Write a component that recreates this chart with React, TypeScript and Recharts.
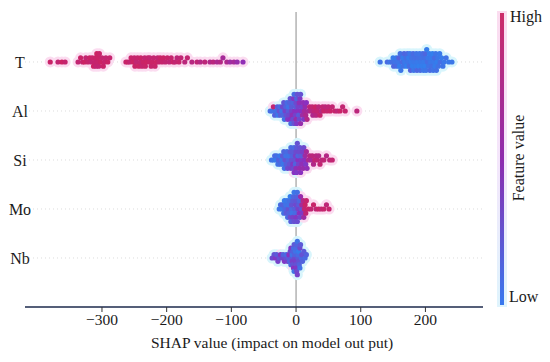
import React from "react";
import { ScatterChart, Scatter, XAxis, YAxis, ReferenceLine } from "recharts";

const FONT = '"Liberation Serif", "Times New Roman", serif';

// bottom to top
const features = ["Nb", "Mo", "Si", "Al", "T"];
const xTicks = [-300, -200, -100, 0, 100, 200];

// [shap value, normalised feature value]
const tValues: [number, number][] = [
  [-380, 0.95], [-368, 0.9], [-362, 0.97], [-357, 0.92],
  [-337, 0.9], [-333, 0.95], [-330, 0.92], [-327, 0.97], [-325, 0.9], [-322, 0.93], [-319, 0.96], [-317, 0.9],
  [-315, 0.94], [-313, 0.97], [-311, 0.92], [-310, 0.95], [-309, 0.9], [-308, 0.98], [-307, 0.93], [-306, 0.96],
  [-305, 0.9], [-304, 0.94], [-302, 0.97], [-300, 0.91], [-298, 0.95], [-296, 0.93], [-294, 0.9], [-291, 0.96], [-288, 0.92],
  [-263, 0.93], [-260, 0.96], [-257, 0.9], [-255, 0.94], [-252, 0.97], [-250, 0.92], [-249, 0.95], [-247, 0.9],
  [-245, 0.93], [-243, 0.97], [-241, 0.91], [-240, 0.95], [-238, 0.92], [-236, 0.96], [-234, 0.9], [-233, 0.94],
  [-231, 0.97], [-229, 0.92], [-227, 0.95], [-226, 0.9], [-224, 0.93], [-222, 0.96], [-220, 0.91], [-218, 0.94],
  [-216, 0.97], [-214, 0.9], [-212, 0.93], [-210, 0.95], [-207, 0.92], [-205, 0.96], [-202, 0.9], [-199, 0.94],
  [-196, 0.88], [-193, 0.92], [-190, 0.95], [-187, 0.9], [-184, 0.86], [-181, 0.93], [-178, 0.89],
  [-172, 0.85], [-168, 0.9], [-161, 0.82], [-153, 0.88], [-148, 0.8], [-141, 0.86], [-133, 0.78], [-128, 0.84],
  [-122, 0.75], [-117, 0.8], [-113, 0.7], [-107, 0.76], [-102, 0.65], [-96, 0.7], [-91, 0.6], [-82, 0.55],
  [130, 0.1], [141, 0.15], [145, 0.08], [148, 0.12], [150, 0.05], [151, 0.18], [153, 0.1], [155, 0.06],
  [156, 0.14], [158, 0.09], [159, 0.2], [160, 0.04], [161, 0.12], [162, 0.08], [164, 0.15], [165, 0.05],
  [166, 0.1], [167, 0.18], [168, 0.07], [170, 0.12], [171, 0.03], [172, 0.16], [173, 0.09], [174, 0.05],
  [175, 0.13], [176, 0.08], [177, 0.2], [178, 0.06], [179, 0.11], [180, 0.04], [181, 0.15], [182, 0.09],
  [183, 0.07], [184, 0.13], [185, 0.05], [186, 0.1], [187, 0.17], [188, 0.06], [189, 0.12], [190, 0.03],
  [191, 0.09], [192, 0.15], [193, 0.07], [194, 0.11], [195, 0.04], [196, 0.14], [197, 0.08], [198, 0.06],
  [199, 0.12], [200, 0.03], [200, 0.18], [201, 0.09], [202, 0.05], [203, 0.13], [204, 0.07], [205, 0.1],
  [206, 0.04], [207, 0.15], [208, 0.08], [209, 0.06], [210, 0.12], [211, 0.03], [212, 0.1], [213, 0.07],
  [214, 0.14], [215, 0.05], [216, 0.09], [217, 0.12], [218, 0.04], [219, 0.08], [220, 0.11], [222, 0.06],
  [223, 0.13], [225, 0.05], [227, 0.09], [229, 0.07], [232, 0.1], [236, 0.06], [241, 0.08],
];

const alValues: [number, number][] = [
  [-40, 0.15], [-37, 0.1], [-35, 0.9], [-33, 0.2], [-31, 0.12], [-29, 0.25], [-28, 0.08], [-26, 0.3],
  [-25, 0.15], [-24, 0.22], [-22, 0.1], [-21, 0.35], [-20, 0.18], [-19, 0.28], [-18, 0.12], [-17, 0.4],
  [-16, 0.2], [-15, 0.3], [-14, 0.15], [-13, 0.45], [-12, 0.25], [-12, 0.1], [-11, 0.35], [-10, 0.2],
  [-9, 0.5], [-9, 0.3], [-8, 0.15], [-7, 0.4], [-7, 0.25], [-6, 0.55], [-5, 0.2], [-5, 0.35], [-4, 0.45],
  [-3, 0.3], [-3, 0.15], [-2, 0.5], [-1, 0.25], [-1, 0.4], [0, 0.35], [0, 0.6], [1, 0.2], [1, 0.45],
  [2, 0.3], [3, 0.5], [3, 0.4], [4, 0.25], [5, 0.55], [5, 0.35], [6, 0.45], [7, 0.6], [7, 0.3], [8, 0.5],
  [9, 0.4], [10, 0.65], [11, 0.55], [12, 0.45], [13, 0.7], [14, 0.6], [15, 0.75], [16, 0.5], [17, 0.8], [19, 0.7],
  [21, 0.85], [23, 0.8], [25, 0.9], [26, 0.75], [28, 0.88], [30, 0.95], [31, 0.82], [33, 0.9], [35, 0.85],
  [37, 0.93], [39, 0.8], [41, 0.9], [43, 0.95], [45, 0.86], [48, 0.92], [50, 0.88], [53, 0.95], [56, 0.9],
  [60, 0.93], [64, 0.87], [68, 0.95], [72, 0.9], [76, 0.92], [94, 0.85],
];

const siValues: [number, number][] = [
  [-38, 0.1], [-35, 0.08], [-33, 0.15], [-31, 0.05], [-30, 0.12], [-28, 0.1], [-27, 0.2], [-25, 0.06],
  [-24, 0.15], [-22, 0.1], [-21, 0.25], [-20, 0.08], [-19, 0.18], [-18, 0.12], [-17, 0.3], [-16, 0.1],
  [-15, 0.22], [-14, 0.15], [-13, 0.35], [-12, 0.2], [-11, 0.1], [-10, 0.3], [-9, 0.25], [-8, 0.4],
  [-8, 0.15], [-7, 0.3], [-6, 0.2], [-5, 0.45], [-5, 0.25], [-4, 0.35], [-3, 0.15], [-3, 0.5], [-2, 0.3],
  [-1, 0.4], [-1, 0.2], [0, 0.35], [0, 0.55], [1, 0.25], [1, 0.45], [2, 0.3], [3, 0.5], [3, 0.2], [4, 0.4],
  [5, 0.35], [5, 0.6], [6, 0.3], [7, 0.5], [8, 0.45], [8, 0.25], [9, 0.55], [10, 0.4], [11, 0.6], [12, 0.35],
  [13, 0.5], [14, 0.65], [15, 0.45], [16, 0.7], [17, 0.55], [19, 0.75], [21, 0.8], [23, 0.7], [25, 0.85],
  [27, 0.78], [29, 0.9], [31, 0.82], [33, 0.88], [35, 0.8], [37, 0.9], [40, 0.85], [43, 0.88], [47, 0.8],
  [52, 0.86], [56, 0.9],
];

const moValues: [number, number][] = [
  [-26, 0.1], [-24, 0.15], [-22, 0.08], [-21, 0.2], [-19, 0.12], [-18, 0.05], [-17, 0.18], [-16, 0.1],
  [-15, 0.25], [-14, 0.08], [-13, 0.15], [-12, 0.3], [-12, 0.1], [-11, 0.2], [-10, 0.12], [-9, 0.35],
  [-9, 0.05], [-8, 0.22], [-7, 0.15], [-7, 0.3], [-6, 0.1], [-5, 0.25], [-5, 0.4], [-4, 0.18], [-3, 0.3],
  [-3, 0.08], [-2, 0.22], [-1, 0.35], [-1, 0.15], [0, 0.28], [0, 0.45], [1, 0.2], [2, 0.32], [2, 0.12],
  [3, 0.4], [4, 0.25], [5, 0.5], [5, 0.18], [6, 0.35], [7, 0.6], [8, 0.3], [9, 0.7], [10, 0.45], [11, 0.8],
  [12, 0.65], [13, 0.9], [14, 0.95], [15, 0.88], [16, 0.92],
  [19, 0.96], [23, 0.9], [27, 0.94], [31, 0.88], [35, 0.95], [39, 0.9], [43, 0.93], [47, 0.87], [51, 0.92],
];

const nbValues: [number, number][] = [
  [-37, 0.35], [-34, 0.3], [-32, 0.45], [-30, 0.25], [-28, 0.4], [-26, 0.3], [-24, 0.5], [-22, 0.35],
  [-20, 0.2], [-18, 0.45], [-16, 0.3], [-15, 0.15], [-13, 0.4], [-12, 0.25], [-11, 0.5], [-10, 0.2],
  [-9, 0.35], [-8, 0.15], [-8, 0.45], [-7, 0.25], [-6, 0.1], [-6, 0.4], [-5, 0.2], [-5, 0.3], [-4, 0.15],
  [-4, 0.5], [-3, 0.25], [-3, 0.1], [-2, 0.35], [-2, 0.2], [-1, 0.4], [-1, 0.1], [0, 0.3], [0, 0.15],
  [0, 0.45], [1, 0.2], [1, 0.35], [2, 0.1], [2, 0.4], [3, 0.25], [3, 0.15], [4, 0.3], [4, 0.05], [5, 0.2],
  [6, 0.35], [6, 0.1], [7, 0.25], [8, 0.15], [9, 0.3], [10, 0.2], [12, 0.25], [14, 0.15], [16, 0.2],
];

const rows = [nbValues, moValues, siValues, alValues, tValues];

const BIN = 5;
const MAX_OFF = 0.34;
const MAX_STEP = 0.085;

// shap-style beeswarm: stack points sharing a bin alternately above/below the row
function beeswarm(values: [number, number][], row: number) {
  const sorted = [...values].sort((a, b) => a[0] - b[0]);
  const counts = new Map<number, number>();
  const layers = sorted.map(([v]) => {
    const b = Math.round(v / BIN);
    const n = counts.get(b) ?? 0;
    counts.set(b, n + 1);
    return Math.ceil(n / 2) * (n % 2 === 1 ? 1 : -1);
  });
  const maxLayer = Math.max(1, ...layers.map(Math.abs));
  const step = Math.min(MAX_OFF / maxLayer, MAX_STEP);
  return sorted.map(([v, fv], i) => ({ x: v, y: row + layers[i] * step, fv }));
}

const points = rows.flatMap((vals, i) => beeswarm(vals, i));

const LOW = [45, 132, 240];
const MID = [138, 48, 192];
const HIGH = [208, 34, 94];

function colorFor(fv: number) {
  const [a, b, t] = fv < 0.5 ? [LOW, MID, fv * 2] : [MID, HIGH, (fv - 0.5) * 2];
  const c = a.map((v, i) => Math.round(v + (b[i] - v) * t));
  return `rgb(${c[0]},${c[1]},${c[2]})`;
}

const Dot = (props: any) => {
  const fv = props.payload?.fv ?? props.fv;
  return <circle cx={props.cx} cy={props.cy} r={2.6} fill={colorFor(fv)} />;
};

const HaloDot = (props: any) => {
  const fv = props.payload?.fv ?? props.fv;
  return <circle cx={props.cx} cy={props.cy} r={5.5} fill={fv >= 0.5 ? "#fbdcf0" : "#d8f5fc"} />;
};

const FeatureTick = (props: any) => (
  <text x={20} y={props.y} dy={1} textAnchor="middle" dominantBaseline="central"
    fontSize={16} style={{ fontFamily: FONT }} fill="#1a1a1a">
    {features[props.payload.value]}
  </text>
);

const fmt = (v: number) => (v < 0 ? `\u2212${Math.abs(v)}` : `${v}`);

const textStyle = { fontFamily: FONT, fontSize: 16, lineHeight: "18px", color: "#1a1a1a" };

export default function App() {
  return (
    <div style={{ position: "absolute", left: 0, top: 0, width: 550, height: 362, background: "#fff", fontFamily: FONT }}>
      <ScatterChart width={550} height={362} margin={{ top: 12, right: 67, bottom: 0, left: 0 }}>
        {features.map((f, i) => (
          <ReferenceLine key={f} y={i} stroke="#dcdcdc" strokeDasharray="1 3" />
        ))}
        <ReferenceLine x={0} stroke="#8c8c8c" strokeWidth={1} />
        <XAxis
          type="number"
          dataKey="x"
          domain={[-419, 289]}
          ticks={xTicks}
          allowDataOverflow
          height={55}
          tickSize={5}
          tickLine={{ stroke: "#333" }}
          axisLine={{ stroke: "#1d2a4d", strokeWidth: 1.5 }}
          tick={{ fontSize: 15.5, fill: "#1a1a1a", style: { fontFamily: FONT } }}
          tickFormatter={fmt}
          label={{
            content: (p: any) => (
              <text x={p.viewBox.x + p.viewBox.width / 2 + 18} y={348} textAnchor="middle"
                fontSize={15.5} style={{ fontFamily: FONT }} fill="#1a1a1a">
                SHAP value (impact on model out put)
              </text>
            ),
          }}
        />
        <YAxis
          type="number"
          dataKey="y"
          domain={[-1, 5.02]}
          ticks={[0, 1, 2, 3, 4]}
          allowDataOverflow
          width={25}
          axisLine={false}
          tickLine={false}
          tick={<FeatureTick />}
        />
        <Scatter data={points} shape={HaloDot} isAnimationActive={false} />
        <Scatter data={points} shape={Dot} isAnimationActive={false} />
      </ScatterChart>
      <div style={{ position: "absolute", left: 497, top: 11, width: 10, height: 296, background: "linear-gradient(to bottom, #fbdcef, #f4e6fb, #dff4fd)" }} />
      <div style={{ position: "absolute", left: 500, top: 13, width: 4, height: 292, background: "linear-gradient(to bottom, #cc2c68, #8e2cae 50%, #3878ee)" }} />
      <div style={{ ...textStyle, position: "absolute", left: 510, top: 8 }}>High</div>
      <div style={{ ...textStyle, position: "absolute", left: 509, top: 288 }}>Low</div>
      <div style={{ ...textStyle, position: "absolute", left: 519, top: 158, transform: "translate(-50%, -50%) rotate(-90deg)", whiteSpace: "nowrap" }}>
        Feature value
      </div>
    </div>
  );
}
